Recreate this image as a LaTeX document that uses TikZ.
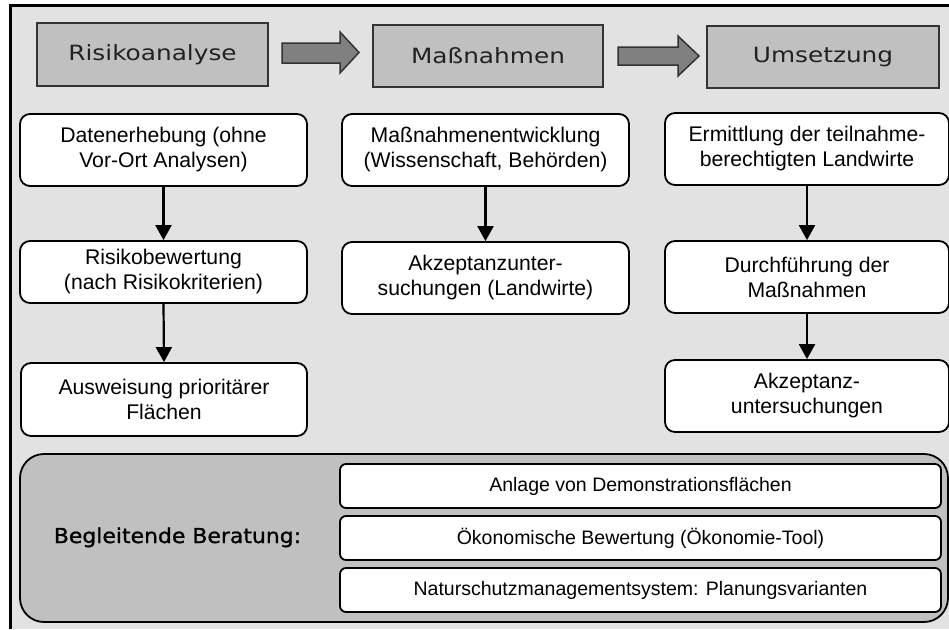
\documentclass[tikz,border=0pt]{standalone}
\usepackage{fontspec}
\setmainfont{Liberation Sans}
\newfontfamily\hdrfont{DejaVu Sans}[FakeStretch=1.18]
\newfontfamily\begfont{DejaVu Sans}[FakeStretch=1.07,FakeBold=1]
\usetikzlibrary{arrows.meta}
\definecolor{bg}{HTML}{E2E2E2}
\definecolor{hdrgray}{HTML}{C0C0C0}
\definecolor{hdrline}{HTML}{333333}
\definecolor{hdrtext}{HTML}{222222}
\definecolor{arrowgray}{HTML}{808080}
\tikzset{
  hdr/.style={draw=hdrline, line width=1.5pt, fill=hdrgray, inner sep=0pt, text=hdrtext,
    font=\hdrfont\fontsize{21}{24}\selectfont},
  wbox/.style={draw, line width=1.8pt, fill=white, rounded corners=10pt, inner sep=0pt,
    align=center, font=\fontsize{21.2}{25}\selectfont},
  sbox/.style={draw, line width=1.8pt, fill=white, rounded corners=6pt, inner sep=0pt,
    minimum width=601pt, minimum height=44pt, font=\fontsize{19.5}{22}\selectfont},
  flow/.style={line width=2.2pt, -{Triangle[length=15pt,width=16pt]}},
  blockarrow/.style={fill=arrowgray, draw=hdrline, line width=1.5pt, line join=miter},
}
\begin{document}
\begin{tikzpicture}[x=1pt,y=-1pt]
\useasboundingbox (0,0) rectangle (949,629);
\fill[bg] (10,5) rectangle (949,629);
\draw[line width=3pt] (10,629) -- (10,5.5) -- (949,5.5);

% header boxes
\node[hdr, minimum width=231pt, minimum height=63pt] (h1) at (152.5,54.5) {Risikoanalyse};
\node[hdr, minimum width=230pt, minimum height=62pt] (h2) at (488,56) {Maßnahmen};
\node[hdr, minimum width=232pt, minimum height=62pt] (h3) at (823,57) {Umsetzung};

% block arrows
\draw[blockarrow] (282,43) -- (340,43) -- (340,32) -- (359,52.5) -- (340,73) -- (340,63) -- (282,63) -- cycle;
\draw[blockarrow] (618,47) -- (678,47) -- (678,36) -- (699,56) -- (678,76) -- (678,65) -- (618,65) -- cycle;

% column 1
\node[wbox, minimum width=287pt, minimum height=72pt] (a1) at (163.5,150) {Datenerhebung (ohne\\Vor-Ort Analysen)};
\node[wbox, minimum width=287pt, minimum height=62pt] (a2) at (163.5,272) {Risikobewertung\\(nach Risikokriterien)};
\node[wbox, minimum width=286pt, minimum height=73pt] (a3) at (164,399.5) {Ausweisung prioritärer\\Flächen};

% column 2
\node[wbox, minimum width=287pt, minimum height=72pt] (b1) at (485.5,150) {Maßnahmenentwicklung\\(Wissenschaft, Behörden)};
\node[wbox, minimum width=287pt, minimum height=72pt] (b2) at (485.5,278) {Akzeptanzunter-\\suchungen (Landwirte)};

% column 3
\node[wbox, minimum width=284pt, minimum height=72pt] (c1) at (807,149) {Ermittlung der teilnahme-\\berechtigten Landwirte};
\node[wbox, minimum width=284pt, minimum height=72pt] (c2) at (807,277) {Durchführung der\\Maßnahmen};
\node[wbox, minimum width=284pt, minimum height=72pt] (c3) at (807,396) {Akzeptanz-\\untersuchungen};

% flow arrows
\draw[flow] (a1.south) -- (a2.north);
\draw[flow] (a2.south) -- (a3.north);
\draw[flow] (b1.south) -- (b2.north);
\draw[flow] (c1.south) -- (c2.north);
\draw[flow] (c2.south) -- (c3.north);

% bottom panel
\node[draw, line width=1.8pt, fill=hdrgray, rounded corners=24pt, inner sep=0pt,
  minimum width=928pt, minimum height=168pt] (panel) at (484,538) {};
\node[anchor=base, font=\begfont\fontsize{20.5}{24}\selectfont] (beg) at (177.5,543) {Begleitende Beratung:};
\node[sbox] (s1) at (640.5,486) {Anlage von Demonstrationsflächen};
\node[sbox] (s2) at (640.5,538) {Ökonomische Bewertung (Ökonomie-Tool)};
\node[sbox] (s3) at (640.5,590) {Naturschutzmanagementsystem: Planungsvarianten};
\end{tikzpicture}
\end{document}
